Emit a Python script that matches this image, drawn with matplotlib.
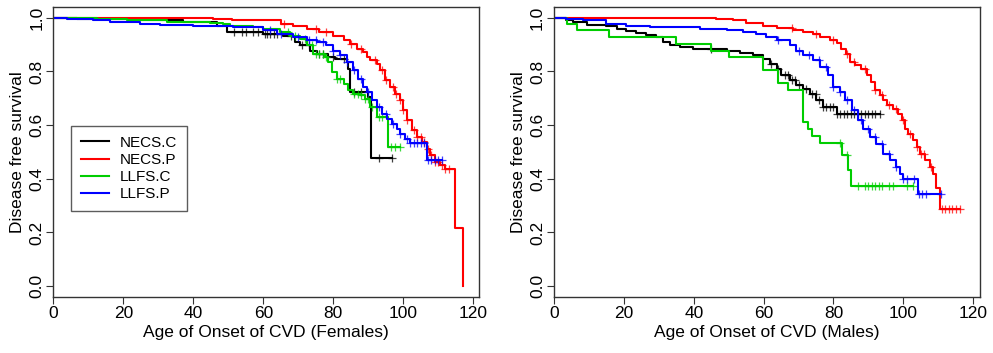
import matplotlib
matplotlib.use("Agg")
import matplotlib.pyplot as plt
import numpy as np

plt.rcParams['font.family'] = ['Liberation Sans', 'DejaVu Sans']

labels = ["NECS.C", "NECS.P", "LLFS.C", "LLFS.P"]
colors = ["#000000", "#FF0000", "#00CD00", "#0000FF"]

# ---- Females: step times / survival after each step / censor times ----
f_necs_c_t = [0, 6.7, 22.9, 37.1, 46.7, 49.5, 60, 65.7, 69, 70.5, 73.3, 75.2, 78.6, 80.5,
              83.8, 84.3, 84.8, 90.0, 90.8, 96.7]
f_necs_c_s = [1.0, 0.997, 0.993, 0.984, 0.971, 0.947, 0.94, 0.934, 0.909, 0.897, 0.878, 0.866,
              0.854, 0.847, 0.835, 0.81, 0.723, 0.705, 0.479, 0.479]
f_necs_c_cens = [51.5, 54, 55, 57, 58.5, 60.5, 61, 62, 63, 64, 68, 71, 73, 76, 77, 80, 83, 86,
                 88, 92.9, 96.7]

f_necs_p_t = [0, 40, 45.7, 51, 60, 65, 68.6, 72.4, 76, 80, 82.9, 84.8, 86.7, 88.6, 89.5, 90.5,
              92.4, 93.3, 94.8, 96.2, 97.6, 99, 100, 101, 102.4, 103.8, 105.2, 106.7, 107.6,
              109, 110.5, 112, 114.8, 117.1]
f_necs_p_s = [1.0, 0.998, 0.996, 0.993, 0.99, 0.978, 0.971, 0.959, 0.947, 0.934, 0.916, 0.903,
              0.885, 0.872, 0.854, 0.841, 0.829, 0.804, 0.767, 0.742, 0.717, 0.692, 0.655,
              0.618, 0.58, 0.556, 0.537, 0.512, 0.488, 0.463, 0.45, 0.438, 0.217, 0.0]
f_necs_p_cens = [66, 75, 78, 85, 88, 92, 94, 95, 97, 98, 99, 100, 101, 103, 104, 105, 106, 107,
                 108, 109, 110, 111, 112, 113]

f_llfs_c_t = [0, 12.4, 21, 32.4, 44.8, 48.6, 50.5, 57, 60, 64.8, 67.6, 70.5, 72.4, 74.3, 77.6,
              78.6, 79.5, 81, 82.9, 84.3, 85.7, 87.6, 89, 90.5, 92.4, 95.7, 99]
f_llfs_c_s = [1.0, 0.995, 0.99, 0.986, 0.98, 0.978, 0.97, 0.965, 0.959, 0.947, 0.934, 0.922,
              0.897, 0.866, 0.854, 0.835, 0.798, 0.773, 0.754, 0.73, 0.717, 0.711, 0.698,
              0.667, 0.63, 0.519, 0.519]
f_llfs_c_cens = [67, 69, 72, 74, 75, 76, 77, 78, 81, 82, 86, 87, 88, 89, 90, 91, 93, 94, 96.5,
                 97.5, 99]

f_llfs_p_t = [0, 3.8, 11.4, 16.2, 24.8, 30.5, 40, 47.6, 51.4, 60, 63.8, 68.6, 72.4, 75.2, 78,
              80, 81.9, 83.8, 85.7, 87.1, 88.6, 89.5, 91, 92.4, 93.8, 95.2, 96.7, 98.1, 99,
              100.5, 101.9, 106.7, 111]
f_llfs_p_s = [1.0, 0.996, 0.99, 0.984, 0.978, 0.975, 0.971, 0.968, 0.965, 0.953, 0.94, 0.928,
              0.916, 0.909, 0.897, 0.878, 0.86, 0.835, 0.804, 0.773, 0.742, 0.723, 0.692,
              0.667, 0.643, 0.624, 0.605, 0.587, 0.568, 0.55, 0.533, 0.469, 0.469]
f_llfs_p_cens = [62, 65, 70, 73, 75, 77, 80, 82, 84, 86, 88, 90, 93, 95, 97, 99, 101, 102, 103,
                 104, 105, 106, 107, 108, 109, 110, 111]

# ---- Males ----
m_necs_c_t = [0, 3.5, 5.4, 9.3, 15, 17.9, 20.7, 23.6, 26.4, 29.3, 31.2, 33.1, 36, 39.8, 44.6,
              49.4, 53.2, 57, 59.9, 61.8, 63.7, 65.1, 67.5, 69.4, 71.3, 73.3, 75.1, 77, 80.9, 93.3]
m_necs_c_s = [1.0, 0.993, 0.984, 0.975, 0.968, 0.959, 0.95, 0.943, 0.935, 0.928, 0.909, 0.9,
              0.891, 0.885, 0.882, 0.878, 0.868, 0.86, 0.847, 0.829, 0.81, 0.785, 0.767, 0.748,
              0.736, 0.717, 0.692, 0.667, 0.643, 0.643]
m_necs_c_cens = [45, 62, 64, 66, 67, 68, 69, 70, 72, 74, 75, 76, 77, 78, 79, 80, 81, 82, 83, 84,
                 85, 86, 87, 88, 89, 90, 91, 92, 93.3]

m_necs_p_t = [0, 46.5, 51.3, 55, 59.9, 63.7, 68.4, 71.3, 74.2, 76.1, 79, 80.9, 82.3, 83.7, 84.7,
              86.1, 88, 89.5, 90.9, 91.8, 93.3, 94.2, 95.2, 97.1, 98.5, 99.5, 100.4, 101.4,
              102.8, 103.8, 104.7, 106.1, 107.6, 108.5, 109.5, 110.4, 116.2]
m_necs_p_s = [1.0, 0.996, 0.99, 0.98, 0.971, 0.963, 0.955, 0.947, 0.938, 0.928, 0.918, 0.906,
              0.885, 0.866, 0.835, 0.823, 0.81, 0.785, 0.761, 0.73, 0.711, 0.692, 0.674, 0.661,
              0.643, 0.618, 0.587, 0.568, 0.543, 0.519, 0.494, 0.469, 0.444, 0.419, 0.364,
              0.289, 0.289]
m_necs_p_cens = [68, 75, 80, 84, 86, 89, 92, 94, 96, 98, 100, 102, 104, 105, 106, 108, 111, 112,
                 113, 114, 115, 116.2]

m_llfs_c_t = [0, 3.6, 6.6, 15.8, 35, 45, 50, 59.9, 64, 66.9, 71.3, 72.7, 74, 76.1, 82.4, 84.2,
              84.9, 102.8]
m_llfs_c_s = [1.0, 0.978, 0.953, 0.928, 0.903, 0.878, 0.853, 0.804, 0.757, 0.732, 0.612, 0.587,
              0.558, 0.533, 0.488, 0.432, 0.373, 0.373]
m_llfs_c_cens = [82, 84, 87, 89, 90, 91, 92, 93, 94, 96, 97, 101, 102.8]

m_llfs_p_t = [0, 3.5, 8.3, 15, 20.7, 27.4, 41.7, 49.4, 54.1, 57.9, 60.8, 63.7, 67.5, 69.4, 71.3,
              74.2, 76.1, 78.5, 79.9, 81.8, 83.2, 85.2, 87.1, 88.5, 90.4, 92.3, 94.2, 96.1, 98,
              99, 99.9, 104.2, 110.9]
m_llfs_p_s = [1.0, 0.996, 0.99, 0.978, 0.971, 0.965, 0.959, 0.953, 0.947, 0.94, 0.928, 0.916,
              0.897, 0.878, 0.86, 0.841, 0.816, 0.785, 0.742, 0.723, 0.692, 0.655, 0.618, 0.587,
              0.556, 0.531, 0.494, 0.469, 0.444, 0.419, 0.398, 0.345, 0.345]
m_llfs_p_cens = [64, 70, 73, 76, 78, 80, 82, 84, 86, 88, 90, 92, 94, 96, 98, 100, 101, 103,
                 104.5, 105.5, 106.5, 110.9]

females = [(f_necs_c_t, f_necs_c_s, f_necs_c_cens), (f_necs_p_t, f_necs_p_s, f_necs_p_cens),
           (f_llfs_c_t, f_llfs_c_s, f_llfs_c_cens), (f_llfs_p_t, f_llfs_p_s, f_llfs_p_cens)]
males = [(m_necs_c_t, m_necs_c_s, m_necs_c_cens), (m_necs_p_t, m_necs_p_s, m_necs_p_cens),
         (m_llfs_c_t, m_llfs_c_s, m_llfs_c_cens), (m_llfs_p_t, m_llfs_p_s, m_llfs_p_cens)]

fs = 12.5
fig = plt.figure(figsize=(9.93, 3.53), dpi=100)
ax1 = fig.add_axes([0.0537, 0.159, 0.429, 0.821])
ax2 = fig.add_axes([0.558, 0.159, 0.429, 0.821])


def km(ax, curves, xmax, xlabel):
    for (t, s, cens), col, lab in zip(curves, colors, labels):
        t = np.asarray(t)
        s = np.asarray(s)
        ax.step(t, s, where="post", color=col, lw=1.5, label=lab)
        idx = np.searchsorted(t, cens, side="right") - 1
        ax.plot(cens, s[idx], ls="none", marker="+", ms=6, mew=0.9, color=col, alpha=0.75)
    ax.set_xlim(0, xmax)
    ax.set_ylim(-0.04, 1.04)
    ax.set_xticks(np.arange(0, 121, 20))
    ax.set_yticks(np.arange(0, 1.01, 0.2))
    ax.set_yticklabels([f"{v:.1f}" for v in np.arange(0, 1.01, 0.2)], rotation=90, va="center")
    ax.tick_params(labelsize=fs, length=5, width=0.8, pad=1.5, color="#333333")
    for sp in ax.spines.values():
        sp.set_color("#333333")
        sp.set_linewidth(1.0)
    ax.set_xlabel(xlabel, fontsize=fs, labelpad=3)
    ax.set_ylabel("Disease free survival", fontsize=fs, labelpad=3)


km(ax1, females, 121.7, "Age of Onset of CVD (Females)")
km(ax2, males, 122.0, "Age of Onset of CVD (Males)")

leg = ax1.legend(loc="upper left", bbox_to_anchor=(0.042, 0.59), borderaxespad=0,
                 fontsize=11, frameon=True, fancybox=False, handlelength=1.8,
                 handletextpad=0.7, labelspacing=0.2, borderpad=0.65)
leg.get_frame().set_edgecolor("#333333")
leg.get_frame().set_linewidth(1.0)

fig.savefig("out.png", dpi=100)
